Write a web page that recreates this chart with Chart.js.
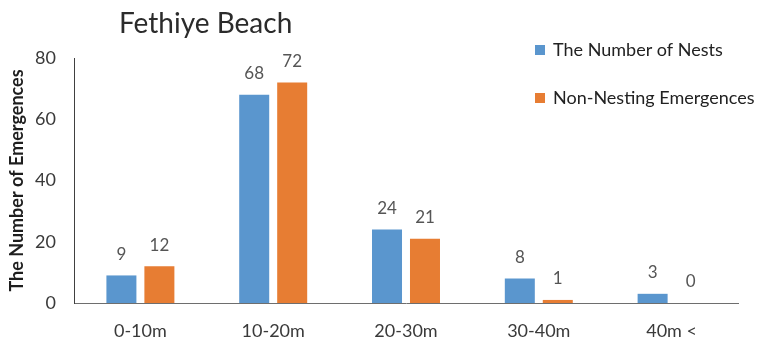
<!DOCTYPE html>
<html>
<head>
<meta charset="utf-8">
<script src="https://cdn.jsdelivr.net/npm/chart.js@4/dist/chart.umd.min.js"></script>
<style>
  html, body { margin: 0; padding: 0; background: #ffffff; }
  #wrap { width: 758px; height: 338px; }
</style>
</head>
<body>
<div id="wrap"><canvas id="chart" width="758" height="338"></canvas></div>
<script>
// Distance bands from the sea and the counts recorded in each
const categories = ['0-10m', '10-20m', '20-30m', '30-40m', '40m <'];
const nests = [9, 68, 24, 8, 3];
const nonNesting = [12, 72, 21, 1, 0];
const yTicks = [0, 20, 40, 60, 80];
const seriesNames = ['The Number of Nests', 'Non-Nesting Emergences'];
const chartTitle = 'Fethiye Beach';
const yAxisTitle = 'The Number of Emergences';

const FONT = 'Lato, "Open Sans", sans-serif';
const BLUE = '#5a96ce';
const ORANGE = '#e77d33';

// Value printed above each bar
const valueLabels = {
  id: 'valueLabels',
  afterDatasetsDraw(chart) {
    const ctx = chart.ctx;
    ctx.save();
    ctx.font = '17px ' + FONT;
    ctx.fillStyle = '#555555';
    ctx.textAlign = 'center';
    ctx.textBaseline = 'middle';
    chart.data.datasets.forEach((ds, i) => {
      chart.getDatasetMeta(i).data.forEach((bar, j) => {
        ctx.fillText(String(ds.data[j]), bar.x, bar.y - 21);
      });
    });
    ctx.restore();
  }
};

// Title at upper left, stacked legend at upper right over the plot
const header = {
  id: 'header',
  afterDraw(chart) {
    const ctx = chart.ctx;
    ctx.save();
    ctx.textAlign = 'left';
    ctx.textBaseline = 'middle';
    ctx.font = '28px ' + FONT;
    ctx.fillStyle = '#2b2b2b';
    ctx.fillText(chartTitle, 119, 24);
    ctx.font = '18px ' + FONT;
    chart.data.datasets.forEach((ds, i) => {
      const cy = 50 + i * 48;
      ctx.fillStyle = ds.backgroundColor;
      ctx.fillRect(535, cy - 5, 10, 10);
      ctx.fillStyle = '#222222';
      ctx.fillText(ds.label, 553, cy);
    });
    ctx.restore();
  }
};

function build() {
  new Chart(document.getElementById('chart'), {
    type: 'bar',
    data: {
      labels: categories,
      datasets: [
        { label: seriesNames[0], data: nests, backgroundColor: BLUE },
        { label: seriesNames[1], data: nonNesting, backgroundColor: ORANGE }
      ]
    },
    options: {
      responsive: false,
      animation: false,
      devicePixelRatio: 1,
      layout: { padding: { top: 58, right: 20, left: 0, bottom: 0 } },
      datasets: { bar: { categoryPercentage: 0.572, barPercentage: 0.79 } },
      plugins: { legend: { display: false }, title: { display: false }, tooltip: { enabled: false } },
      scales: {
        x: {
          grid: { display: false, drawTicks: false },
          border: { display: true, color: '#6e6e6e', width: 1 },
          ticks: { color: '#3a3a3a', font: { family: FONT, size: 18 }, padding: 17 },
          afterFit(scale) { scale.height = 35; }
        },
        y: {
          min: yTicks[0],
          max: yTicks[yTicks.length - 1],
          grid: { display: false, drawTicks: false },
          border: { display: true, color: '#404040', width: 1 },
          afterBuildTicks(scale) { scale.ticks = yTicks.map(v => ({ value: v })); },
          ticks: { color: '#3a3a3a', font: { family: FONT, size: 18 }, padding: 18 },
          title: {
            display: true,
            text: yAxisTitle,
            color: '#1e1e1e',
            font: { family: FONT, size: 18, weight: 'bold' },
            padding: { top: 6, bottom: 0 }
          },
          afterFit(scale) { scale.width = 74; }
        }
      }
    },
    plugins: [valueLabels, header]
  });
}

const loads = ['18px Lato', 'bold 18px Lato', '28px Lato'].map(f => document.fonts.load(f));
Promise.all(loads).then(build, build);
</script>
</body>
</html>
